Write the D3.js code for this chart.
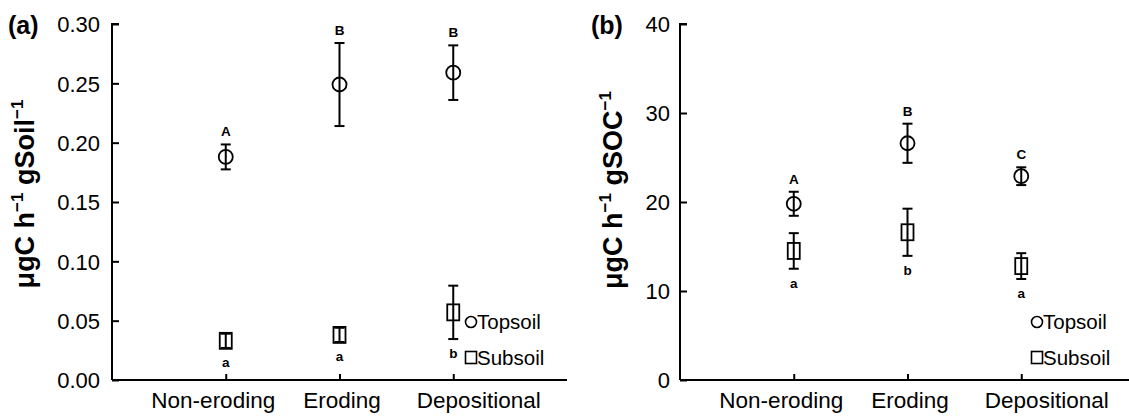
<!DOCTYPE html>
<html>
<head>
<meta charset="utf-8">
<script src="https://cdn.jsdelivr.net/npm/d3@7"></script>
<style>
  body { margin: 0; background: #fff; }
  svg { display: block; font-family: "Liberation Sans", Arial, sans-serif; }
</style>
</head>
<body>
<div id="chart"></div>
<script>
// categories along the x axis (same for both panels)
var categories = ["Non-eroding", "Eroding", "Depositional"];

// panel (a): ugC h-1 gSoil-1
var topsoilA = [0.188, 0.249, 0.259];
var topsoilAErr = [0.0105, 0.035, 0.023];
var subsoilA = [0.033, 0.038, 0.057];
var subsoilAErr = [0.006, 0.006, 0.0225];
var topLettersA = ["A", "B", "B"];
var subLettersA = ["a", "a", "b"];
var ticksA = [0, 0.05, 0.10, 0.15, 0.20, 0.25, 0.30];

// panel (b): ugC h-1 gSOC-1
var topsoilB = [19.8, 26.6, 22.9];
var topsoilBErr = [1.35, 2.2, 1.0];
var subsoilB = [14.5, 16.6, 12.8];
var subsoilBErr = [2.0, 2.65, 1.45];
var topLettersB = ["A", "B", "C"];
var subLettersB = ["a", "b", "a"];
var ticksB = [0, 10, 20, 30, 40];

var width = 1129, height = 416;
// category labels are spread a little wider than the ticks in the original
var labelShift = [-13, 2, 25];

var svg = d3.select("#chart")
  .append("svg")
  .attr("width", width)
  .attr("height", height);

function drawPanel(p) {
  var g = svg.append("g");

  var x = d3.scalePoint()
    .domain(categories)
    .range([p.left, p.right])
    .padding(1);

  var y = d3.scaleLinear()
    .domain(p.domain)
    .range([380, 24]);

  // y axis, ticks pointing inward
  var yAxis = g.append("g")
    .attr("transform", `translate(${p.left},0)`)
    .call(d3.axisRight(y).tickValues(p.ticks).tickSize(7).tickFormat(p.fmt));
  yAxis.select(".domain").attr("d", `M7,${y(p.domain[1])}H0V${y(0)}`);
  yAxis.selectAll("line").attr("stroke-width", 2);
  yAxis.selectAll("text")
    .attr("x", -p.labelGap)
    .attr("dy", "0.36em")
    .attr("text-anchor", "end")
    .style("font-size", "22px")
    .style("font-family", "'Liberation Sans', Arial, sans-serif")
    .attr("fill", "#000");

  // x axis, ticks pointing up
  var xAxis = g.append("g")
    .attr("transform", "translate(0,380)")
    .call(d3.axisTop(x).tickSize(6).tickSizeOuter(0));
  xAxis.select(".domain").attr("d", `M${p.left},0H${p.right}`);
  xAxis.selectAll("line").attr("stroke-width", 2);
  xAxis.selectAll("text")
    .attr("y", 28)
    .attr("dy", 0)
    .attr("x", (d, i) => labelShift[i])
    .style("font-size", "22.5px")
    .style("font-family", "'Liberation Sans', Arial, sans-serif")
    .attr("fill", "#000");
  g.selectAll(".domain").attr("stroke-width", 2).attr("stroke", "#000");

  // error bars
  function errBars(vals, errs) {
    var eb = g.append("g").attr("stroke", "#000").attr("stroke-width", 2).attr("fill", "none");
    eb.selectAll("line.v").data(vals).enter().append("line")
      .attr("x1", (d, i) => x(categories[i])).attr("x2", (d, i) => x(categories[i]))
      .attr("y1", (d, i) => y(d + errs[i])).attr("y2", (d, i) => y(d - errs[i]));
    eb.selectAll("line.t").data(vals).enter().append("line")
      .attr("x1", (d, i) => x(categories[i]) - 5).attr("x2", (d, i) => x(categories[i]) + 5)
      .attr("y1", (d, i) => y(d + errs[i])).attr("y2", (d, i) => y(d + errs[i]));
    eb.selectAll("line.b").data(vals).enter().append("line")
      .attr("x1", (d, i) => x(categories[i]) - 5).attr("x2", (d, i) => x(categories[i]) + 5)
      .attr("y1", (d, i) => y(d - errs[i])).attr("y2", (d, i) => y(d - errs[i]));
  }
  errBars(p.top, p.topErr);
  errBars(p.sub, p.subErr);

  // topsoil circles
  g.selectAll("circle.top").data(p.top).enter().append("circle")
    .attr("cx", (d, i) => x(categories[i]))
    .attr("cy", d => y(d))
    .attr("r", 7)
    .attr("fill", "none").attr("stroke", "#000").attr("stroke-width", 1.8);

  // subsoil squares
  g.selectAll("rect.sub").data(p.sub).enter().append("rect")
    .attr("x", (d, i) => x(categories[i]) - 6)
    .attr("y", d => y(d) - 8)
    .attr("width", 12).attr("height", 16)
    .attr("fill", "none").attr("stroke", "#000").attr("stroke-width", 1.8);

  // significance letters
  g.selectAll("text.tl").data(p.topLetters).enter().append("text")
    .attr("x", (d, i) => x(categories[i]))
    .attr("y", (d, i) => y(p.top[i] + p.topErr[i]) - 13 + 5)
    .attr("text-anchor", "middle")
    .style("font-size", "13.5px").style("font-weight", "bold")
    .text(d => d);
  g.selectAll("text.sl").data(p.subLetters).enter().append("text")
    .attr("x", (d, i) => x(categories[i]))
    .attr("y", (d, i) => y(p.sub[i] - p.subErr[i]) + 14 + 5)
    .attr("text-anchor", "middle")
    .style("font-size", "13.5px").style("font-weight", "bold")
    .text(d => d);

  // legend
  var lg = g.append("g").attr("transform", `translate(${p.legX},0)`);
  lg.append("circle").attr("cx", 0).attr("cy", 322).attr("r", 5.5)
    .attr("fill", "none").attr("stroke", "#000").attr("stroke-width", 1.6);
  lg.append("text").attr("x", 6).attr("y", 329).style("font-size", "20.5px").text("Topsoil");
  lg.append("rect").attr("x", -5.5).attr("y", 351.5).attr("width", 11).attr("height", 12)
    .attr("fill", "none").attr("stroke", "#000").attr("stroke-width", 1.6);
  lg.append("text").attr("x", 6).attr("y", 365).style("font-size", "20.5px").text("Subsoil");

  // y axis title
  var t = g.append("text")
    .attr("transform", `translate(${p.titleX},${p.titleY}) rotate(-90)`)
    .attr("text-anchor", "middle")
    .attr("dy", "0.36em")
    .style("font-size", "27px").style("font-weight", "bold");
  t.append("tspan").text("\u03bcgC h");
  t.append("tspan").attr("dy", -11).style("font-size", "17px").text("\u22121");
  t.append("tspan").attr("dy", 11).text(" " + p.unit);
  t.append("tspan").attr("dy", -11).style("font-size", "17px").text("\u22121");

  // panel letter
  g.append("text").attr("x", p.tagX).attr("y", 34)
    .style("font-size", "25px").style("font-weight", "bold")
    .text(p.tag);
}

drawPanel({
  left: 112, right: 567, domain: [0, 0.30], ticks: ticksA, fmt: d3.format(".2f"), labelGap: 12,
  top: topsoilA, topErr: topsoilAErr, sub: subsoilA, subErr: subsoilAErr,
  topLetters: topLettersA, subLetters: subLettersA,
  legX: 471, unit: "gSoil", titleX: 24, titleY: 194, tag: "(a)", tagX: 8
});

drawPanel({
  left: 680, right: 1135, domain: [0, 40], ticks: ticksB, fmt: d3.format("d"), labelGap: 10,
  top: topsoilB, topErr: topsoilBErr, sub: subsoilB, subErr: subsoilBErr,
  topLetters: topLettersB, subLetters: subLettersB,
  legX: 1037, unit: "gSOC", titleX: 612, titleY: 190, tag: "(b)", tagX: 591
});
</script>
</body>
</html>
